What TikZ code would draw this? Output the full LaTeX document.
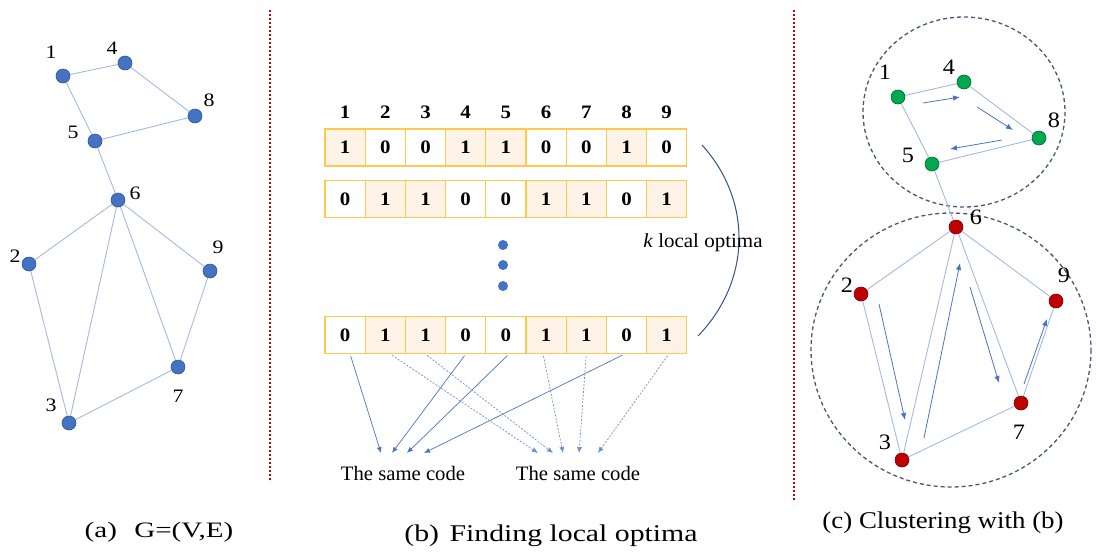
\documentclass[tikz,border=0pt]{standalone}
\usepackage{fontspec}
\usepackage{graphicx}
\setmainfont{Liberation Serif}
\usetikzlibrary{arrows.meta}
\definecolor{nodeblue}{HTML}{4472C4}
\definecolor{edgeblue}{HTML}{A3B9E3}
\definecolor{arrowblue}{HTML}{4A73C2}
\definecolor{sepred}{HTML}{C00000}
\definecolor{cellborder}{HTML}{FFC94D}
\definecolor{cellfill}{HTML}{FEF3E6}
\definecolor{gnode}{HTML}{00A84F}
\definecolor{rnode}{HTML}{C00000}
\definecolor{circgray}{HTML}{4A5672}
\definecolor{arcblue}{HTML}{34508E}
\newcommand{\sx}[2]{\scalebox{#1}[1]{#2}}
\begin{document}
\begin{tikzpicture}[x=1pt,y=-1pt,
  vtx/.style={circle, fill=nodeblue, draw=nodeblue!75!black, line width=0.6pt, minimum size=14pt, inner sep=0pt},
  gvtx/.style={vtx, fill=gnode, draw=gnode!60!black},
  rvtx/.style={vtx, fill=rnode, draw=rnode!60!black},
  edgeline/.style={draw=edgeblue, line width=0.9pt},
  lbla/.style={font=\fontsize{19}{19}\selectfont, inner sep=0pt},
  lblc/.style={font=\fontsize{22}{22}\selectfont, inner sep=0pt},
  bit0/.style={draw=cellborder, fill=white, line width=1.2pt, minimum width=40.2pt, minimum height=37pt, inner sep=0pt, font=\bfseries\fontsize{19}{19}\selectfont},
  bit1/.style={bit0, fill=cellfill},
  hdr/.style={font=\bfseries\fontsize{19}{19}\selectfont, inner sep=0pt},
  sepline/.style={draw=sepred, line width=2.6pt, dash pattern=on 2.4pt off 1.6pt},
  solidarr/.style={draw=arrowblue, line width=0.7pt, -{Latex[length=6pt,width=5pt]}, shorten <=2pt},
  dasharr/.style={draw=arrowblue!80, line width=0.7pt, dash pattern=on 2pt off 1.5pt, -{Latex[length=6pt,width=5pt]}, shorten <=2pt},
  flowarr/.style={draw=arrowblue, line width=0.8pt, -{Latex[length=7pt,width=5.5pt]}},
  dcirc/.style={draw=circgray, line width=1.3pt, dash pattern=on 4pt off 3pt},
  dot/.style={circle, fill=nodeblue, minimum size=10pt, inner sep=0pt}
]
\useasboundingbox (0,0) rectangle (1097,552);

% separators
\draw[sepline] (270,10) -- (270,482);
\draw[sepline] (794,10) -- (794,500);

% ---------- panel (a)
\node[vtx] (a1) at (63,76) {};
\node[vtx] (a4) at (125,63) {};
\node[vtx] (a8) at (195,116) {};
\node[vtx] (a5) at (95,141) {};
\node[vtx] (a6) at (118,200) {};
\node[vtx] (a2) at (29,264) {};
\node[vtx] (a9) at (210,271) {};
\node[vtx] (a7) at (178,367) {};
\node[vtx] (a3) at (69,423) {};
\draw[edgeline] (a1)--(a4) (a4)--(a8) (a8)--(a5) (a1)--(a5) (a5)--(a6)
  (a6)--(a2) (a6)--(a3) (a6)--(a7) (a6)--(a9) (a2)--(a3) (a3)--(a7) (a9)--(a7);
\node[lbla] (la1) at (51,52) {\sx{1.15}{1}};
\node[lbla] (la4) at (112,48) {\sx{1.15}{4}};
\node[lbla] (la8) at (209,100) {\sx{1.15}{8}};
\node[lbla] (la5) at (73,132) {\sx{1.15}{5}};
\node[lbla] (la6) at (135,193) {\sx{1.15}{6}};
\node[lbla] (la2) at (15,256) {\sx{1.15}{2}};
\node[lbla] (la9) at (218,247) {\sx{1.15}{9}};
\node[lbla] (la7) at (178,396) {\sx{1.15}{7}};
\node[lbla] (la3) at (51,405) {\sx{1.15}{3}};

% ---------- panel (b)
\foreach \i in {1,...,9}
  \node[hdr] (h\i) at ({325+40.2*(\i-0.5)},112) {\sx{1.1}{\i}};
\foreach \v [count=\i] in {1,0,0,1,1,0,0,1,0}
  \node[bit\v] (ra\i) at ({325+40.2*(\i-0.5)},147.5) {\sx{1.1}{\v}};
\foreach \v [count=\i] in {0,1,1,0,0,1,1,0,1}
  \node[bit\v] (rb\i) at ({325+40.2*(\i-0.5)},199) {\sx{1.1}{\v}};
\foreach \v [count=\i] in {0,1,1,0,0,1,1,0,1}
  \node[bit\v] (rc\i) at ({325+40.2*(\i-0.5)},335) {\sx{1.1}{\v}};

\node[dot] (d1) at (503,245) {};
\node[dot] (d2) at (503,265) {};
\node[dot] (d3) at (503,286) {};

\coordinate (arcT) at (702,145);
\coordinate (arcB) at (698,336);
\draw[draw=arcblue, line width=1pt] (arcT) .. controls (752,200) and (752,280) .. (arcB);
\node[font=\fontsize{20}{20}\selectfont, inner sep=0pt] (kopt) at (703,243) {\sx{1.05}{\textit{k} local optima}};

\coordinate (t1) at (381,453);
\coordinate (t2) at (392,453);
\coordinate (t3) at (407,453);
\coordinate (t4) at (424,453);
\coordinate (u1) at (538,453);
\coordinate (u2) at (553,453);
\coordinate (u3) at (563,453);
\coordinate (u4) at (579,453);
\coordinate (u5) at (598,453);
\draw[solidarr] ([xshift=5pt]rc1.south) -- (t1);
\draw[solidarr] (rc4.south) -- (t2);
\draw[solidarr] ([xshift=3pt]rc5.south) -- (t3);
\draw[solidarr] ([xshift=-2pt]rc8.south) -- (t4);
\draw[dasharr] ([xshift=5pt]rc2.south) -- (u1);
\draw[dasharr] (rc3.south) -- (u2);
\draw[dasharr] ([xshift=-3pt]rc6.south) -- (u3);
\draw[dasharr] (rc7.south) -- (u4);
\draw[dasharr] ([xshift=2pt]rc9.south) -- (u5);
\node[font=\fontsize{20.5}{20.5}\selectfont, inner sep=0pt] (sc1) at (403,473) {\sx{1.01}{The same code}};
\node[font=\fontsize{20.5}{20.5}\selectfont, inner sep=0pt] (sc2) at (578,473) {\sx{1.01}{The same code}};

% ---------- panel (c)
\draw[dcirc] (964,112) ellipse [x radius=101, y radius=95];
\draw[dcirc] (951,350) ellipse [x radius=140, y radius=137];
\node[gvtx] (c1) at (898,97) {};
\node[gvtx] (c4) at (964,82) {};
\node[gvtx] (c8) at (1039,138) {};
\node[gvtx] (c5) at (932,164) {};
\node[rvtx] (c6) at (956,227) {};
\node[rvtx] (c2) at (861,294) {};
\node[rvtx] (c9) at (1056,301) {};
\node[rvtx] (c7) at (1021,403) {};
\node[rvtx] (c3) at (902,460) {};
\draw[edgeline] (c1)--(c4) (c4)--(c8) (c8)--(c5) (c1)--(c5) (c5)--(c6)
  (c6)--(c2) (c6)--(c3) (c6)--(c7) (c6)--(c9) (c2)--(c3) (c3)--(c7) (c9)--(c7);
\node[lblc] (lc1) at (885,72) {\sx{1.1}{1}};
\node[lblc] (lc4) at (949,67) {\sx{1.1}{4}};
\node[lblc] (lc8) at (1054,120) {\sx{1.1}{8}};
\node[lblc] (lc5) at (908,155) {\sx{1.1}{5}};
\node[lblc] (lc6) at (976,217) {\sx{1.1}{6}};
\node[lblc] (lc2) at (847,285) {\sx{1.1}{2}};
\node[lblc] (lc9) at (1064,275) {\sx{1.1}{9}};
\node[lblc] (lc7) at (1019,432) {\sx{1.1}{7}};
\node[lblc] (lc3) at (885,442) {\sx{1.1}{3}};

\coordinate (f1s) at (923,103); \coordinate (f1e) at (960,97);
\coordinate (f2s) at (977,107); \coordinate (f2e) at (1013,130);
\coordinate (f3s) at (1002,140); \coordinate (f3e) at (950,149);
\coordinate (f4s) at (879,304); \coordinate (f4e) at (905,420);
\coordinate (f5s) at (924,438); \coordinate (f5e) at (960,263);
\coordinate (f6s) at (970,287); \coordinate (f6e) at (999,383);
\coordinate (f7s) at (1024,384); \coordinate (f7e) at (1047,319);
\foreach \k in {1,...,7} \draw[flowarr] (f\k s) -- (f\k e);

% ---------- captions
\node[font=\fontsize{22}{22}\selectfont, inner sep=0pt] (capa) at (159,532) {\sx{1.32}{(a)\hspace{0.6em}G=(V,E)}};
\node[font=\fontsize{24}{24}\selectfont, inner sep=0pt] (capb) at (551,536) {\sx{1.24}{(b)\hspace{0.35em}Finding local optima}};
\node[font=\fontsize{24}{24}\selectfont, inner sep=0pt] (capc) at (943,523) {\sx{1.12}{(c) Clustering with (b)}};
\end{tikzpicture}
\end{document}
